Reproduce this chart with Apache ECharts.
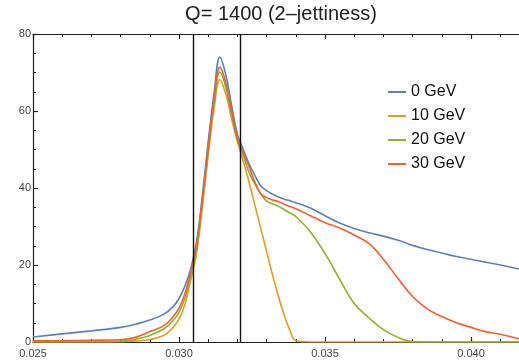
<!DOCTYPE html>
<html>
<head>
<meta charset="utf-8">
<script src="https://cdn.jsdelivr.net/npm/echarts@6/dist/echarts.min.js"></script>
<style>
  html, body { margin: 0; padding: 0; background: #fff; }
  #chart { width: 519px; height: 360px; }
</style>
</head>
<body>
<div id="chart"></div>
<script>
// tau_2 sample points (shared by all four curves)
const tau = [
  0.0250, 0.0260, 0.0270, 0.0280, 0.0285, 0.0290, 0.0295, 0.0298, 0.0300, 0.0302,
  0.0304, 0.0306, 0.0308, 0.0310, 0.0312, 0.0314, 0.0316, 0.0318, 0.0320, 0.0322,
  0.0324, 0.0326, 0.0328, 0.0330, 0.0332, 0.0334, 0.0336, 0.0338, 0.0340, 0.0345,
  0.0350, 0.0355, 0.0360, 0.0365, 0.0370, 0.0375, 0.0380, 0.0385, 0.0390, 0.0395,
  0.0400, 0.0405, 0.0410, 0.0418
];

// distributions for each pT cut
const gev0 = [
  1.3, 2.1, 2.9, 3.8, 4.6, 5.7, 7.3, 9.2, 11.3, 14.5,
  19.0, 26.0, 38.0, 52.0, 64.5, 74.0, 69.5, 61.5, 54.0, 50.0,
  46.3, 43.2, 40.6, 39.3, 38.4, 37.7, 37.1, 36.7, 36.2, 34.8,
  32.8, 30.9, 29.5, 28.4, 27.5, 26.4, 25.1, 24.0, 23.1, 22.2,
  21.5, 20.7, 20.0, 18.7
];
const gev10 = [
  0.0, 0.0, 0.02, 0.08, 0.3, 0.6, 1.8, 3.8, 6.0, 9.7,
  16.0, 23.0, 35.0, 48.5, 60.5, 68.1, 64.5, 58.0, 52.0, 47.0,
  41.5, 35.5, 29.5, 23.5, 17.5, 12.0, 7.0, 3.0, 0.3, 0.0,
  0.0, 0.0, 0.0, 0.0, 0.0, 0.0, 0.0, 0.0, 0.0, 0.0,
  0.0, 0.0, 0.0, 0.0
];
const gev20 = [
  0.05, 0.08, 0.12, 0.2, 0.7, 1.7, 3.5, 5.6, 7.7, 11.3,
  17.0, 24.0, 36.0, 49.5, 62.0, 70.1, 66.3, 59.0, 52.5, 48.5,
  44.0, 41.0, 38.5, 36.6, 35.9, 35.3, 34.4, 33.5, 32.6, 28.6,
  23.0, 16.3, 10.0, 6.3, 3.2, 1.2, 0.1, 0.0, 0.0, 0.0,
  0.0, 0.0, 0.0, 0.0
];
const gev30 = [
  0.3, 0.35, 0.45, 0.6, 1.2, 2.7, 4.3, 6.6, 8.8, 12.5,
  18.3, 25.0, 37.0, 50.5, 63.0, 71.4, 67.5, 60.0, 53.0, 49.3,
  45.5, 41.5, 38.5, 37.5, 36.9, 36.5, 35.8, 35.2, 34.6, 32.8,
  31.0, 29.6, 27.8, 25.6, 21.5, 16.5, 11.8, 8.6, 6.6, 5.0,
  3.8, 2.7, 2.0, 0.5
];

const seriesNames = ['0 GeV', '10 GeV', '20 GeV', '30 GeV'];
const seriesValues = [gev0, gev10, gev20, gev30];
const seriesColors = ['#5E81B5', '#E19C24', '#8FB032', '#EB6235'];

// window boundaries
const cuts = [0.0305, 0.0321];

const yTicks = { min: 0, max: 80, step: 20 };
const xTicks = { min: 0.025, max: 0.045, step: 0.005 };

const chart = echarts.init(document.getElementById('chart'), null, { renderer: 'canvas' });

const font = 'Liberation Sans, Arial, sans-serif';
const frameLine = { show: true, lineStyle: { color: '#222', width: 1.2 } };

function xAxisCfg(position, showLabels) {
  return {
    type: 'value',
    position: position,
    min: xTicks.min,
    max: xTicks.max,
    interval: xTicks.step,
    axisLine: frameLine,
    axisTick: { show: true, inside: true, length: 5, lineStyle: { color: '#222', width: 1.2 } },
    minorTick: { show: true, splitNumber: 5, length: 3, lineStyle: { color: '#222', width: 1 } },
    splitLine: { show: false },
    minorSplitLine: { show: false },
    axisLabel: {
      show: showLabels,
      margin: 6,
      fontSize: 11,
      fontFamily: font,
      color: '#444',
      formatter: v => v.toFixed(3)
    }
  };
}

const series = seriesNames.map((name, i) => ({
  name: name,
  type: 'line',
  xAxisIndex: 0,
  yAxisIndex: 0,
  data: tau.map((t, k) => [t, seriesValues[i][k]]),
  showSymbol: false,
  symbol: 'none',
  smooth: 0.4,
  lineStyle: { color: seriesColors[i], width: 1.6 },
  itemStyle: { color: seriesColors[i] },
  animation: false
}));

// vertical window boundaries, attached to the first curve
series[0].markLine = {
  silent: true,
  symbol: 'none',
  precision: 5,
  animation: false,
  z: 10,
  label: { show: false },
  lineStyle: { color: '#111', width: 1.4, type: 'solid' },
  data: cuts.map(c => ({ xAxis: c }))
};

chart.setOption({
  animation: false,
  backgroundColor: '#fff',
  title: {
    text: 'Q= 1400 (2\u2013jettiness)',
    left: 281,
    textAlign: 'center',
    top: 4,
    padding: 0,
    textStyle: { fontSize: 20, fontWeight: 'normal', color: '#222', fontFamily: font }
  },
  legend: {
    data: seriesNames,
    orient: 'vertical',
    left: 388,
    top: 84,
    itemWidth: 18,
    itemHeight: 2,
    itemGap: 8,
    icon: 'rect',
    padding: 0,
    textStyle: { fontSize: 16, color: '#111', fontFamily: font }
  },
  grid: { left: 33, top: 34, bottom: 18, right: -98, outerBoundsMode: 'none', containLabel: false },
  xAxis: [xAxisCfg('bottom', true), xAxisCfg('top', false)],
  yAxis: {
    type: 'value',
    min: yTicks.min,
    max: yTicks.max,
    interval: yTicks.step,
    axisLine: frameLine,
    axisTick: { show: true, inside: true, length: 5, lineStyle: { color: '#222', width: 1.2 } },
    minorTick: { show: true, splitNumber: 4, length: 3, lineStyle: { color: '#222', width: 1 } },
    splitLine: { show: false },
    minorSplitLine: { show: false },
    axisLabel: { margin: 2, fontSize: 11, fontFamily: font, color: '#444' }
  },
  series: series
});
</script>
</body>
</html>
